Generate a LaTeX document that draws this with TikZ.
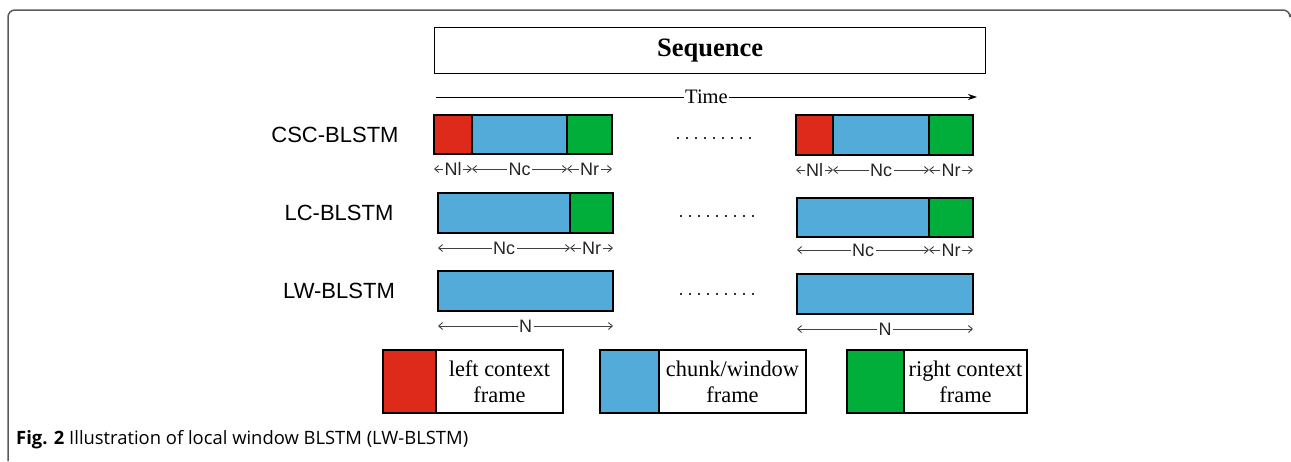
\documentclass[tikz,border=0pt]{standalone}
\usepackage{fontspec}
\setmainfont{Liberation Serif}
\newfontfamily\lblfont{Liberation Sans}
\newfontfamily\capfont{Open Sans}
\usetikzlibrary{positioning,arrows.meta}

\definecolor{ctxred}{RGB}{222,42,27}
\definecolor{chunkblue}{RGB}{82,171,216}
\definecolor{ctxgreen}{RGB}{0,174,57}

\begin{document}
\begin{tikzpicture}[x=1pt, y=-1pt, node distance=0pt,
  seg/.style={draw=black, line width=1.2pt, inner sep=0pt, outer sep=0pt, minimum height=40pt},
  rowlab/.style={font=\lblfont\fontsize{22}{24}\selectfont},
  dim/.style={{Straight Barb[length=4pt,width=7pt]}-{Straight Barb[length=4pt,width=7pt]}, draw=black!75, line width=0.9pt},
  dimlab/.style={fill=white, inner sep=1.5pt, font=\lblfont\fontsize{18}{20}\selectfont, text=black!85},
  legtxt/.style={seg, fill=white, minimum height=63pt, align=center, font=\fontsize{22.4}{26}\selectfont}]

  \useasboundingbox (0,0) rectangle (1291,461);

  % --- frame and caption ---
  \draw[gray!70!black, line width=1.5pt, rounded corners=7pt] (8,461) -- (8,10) -- (1290,10) -- (1290,14);
  \node[anchor=west, inner sep=0pt, font=\capfont\fontsize{18.4}{20}\selectfont] (cap) at (16,440)
    {\textbf{Fig. 2} Illustration of local window BLSTM (LW-BLSTM)};

  % --- sequence and time axis ---
  \node[draw, line width=1.2pt, inner sep=0pt, minimum width=551pt, minimum height=46pt, anchor=north west,
    font=\bfseries\fontsize{26.5}{30}\selectfont] (seq) at (434,27) {Sequence};
  \coordinate (tstart) at (436,97);
  \coordinate (tend) at (977,97);
  \draw[-{Stealth[length=9pt,width=6pt]}, line width=1pt] (tstart) -- node[fill=white, inner sep=1pt, font=\fontsize{20.5}{22}\selectfont] (timelab) {Time} (tend);

  % --- row labels ---
  \node[rowlab] (csclab) at (335,135) {CSC-BLSTM};
  \node[rowlab] (lclab) at (339,213) {LC-BLSTM};
  \node[rowlab] (lwlab) at (339,291) {LW-BLSTM};

  % --- CSC-BLSTM ---
  \node[seg, fill=ctxred, minimum width=38pt, minimum height=39pt, anchor=north west] (cscAl) at (434,115) {};
  \node[seg, fill=chunkblue, minimum width=95pt, minimum height=39pt, right=of cscAl] (cscAc) {};
  \node[seg, fill=ctxgreen, minimum width=45pt, minimum height=39pt, right=of cscAc] (cscAr) {};
  \draw[dim] ([yshift=-15pt]cscAl.south west) -- node[dimlab]{Nl} ([yshift=-15pt]cscAl.south east);
  \draw[dim] ([yshift=-15pt]cscAc.south west) -- node[dimlab]{Nc} ([yshift=-15pt]cscAc.south east);
  \draw[dim] ([yshift=-15pt]cscAr.south west) -- node[dimlab]{Nr} ([yshift=-15pt]cscAr.south east);

  \node[seg, fill=ctxred, minimum width=37pt, anchor=north west] (cscBl) at (796,115) {};
  \node[seg, fill=chunkblue, minimum width=96pt, right=of cscBl] (cscBc) {};
  \node[seg, fill=ctxgreen, minimum width=44pt, right=of cscBc] (cscBr) {};
  \draw[dim] ([yshift=-15pt]cscBl.south west) -- node[dimlab]{Nl} ([yshift=-15pt]cscBl.south east);
  \draw[dim] ([yshift=-15pt]cscBc.south west) -- node[dimlab]{Nc} ([yshift=-15pt]cscBc.south east);
  \draw[dim] ([yshift=-15pt]cscBr.south west) -- node[dimlab]{Nr} ([yshift=-15pt]cscBr.south east);

  % --- LC-BLSTM ---
  \node[seg, fill=chunkblue, minimum width=132pt, anchor=north west] (lcAc) at (438,193) {};
  \node[seg, fill=ctxgreen, minimum width=43pt, right=of lcAc] (lcAr) {};
  \draw[dim] ([yshift=-15pt]lcAc.south west) -- node[dimlab]{Nc} ([yshift=-15pt]lcAc.south east);
  \draw[dim] ([yshift=-15pt]lcAr.south west) -- node[dimlab]{Nr} ([yshift=-15pt]lcAr.south east);

  \node[seg, fill=chunkblue, minimum width=132pt, minimum height=39pt, anchor=north west] (lcBc) at (797,198) {};
  \node[seg, fill=ctxgreen, minimum width=44pt, minimum height=39pt, right=of lcBc] (lcBr) {};
  \draw[dim] ([yshift=-13pt]lcBc.south west) -- node[dimlab]{Nc} ([yshift=-13pt]lcBc.south east);
  \draw[dim] ([yshift=-13pt]lcBr.south west) -- node[dimlab]{Nr} ([yshift=-13pt]lcBr.south east);

  % --- LW-BLSTM ---
  \node[seg, fill=chunkblue, minimum width=175pt, anchor=north west] (lwA) at (438,271) {};
  \draw[dim] ([yshift=-15pt]lwA.south west) -- node[dimlab]{N} ([yshift=-15pt]lwA.south east);

  \node[seg, fill=chunkblue, minimum width=176pt, anchor=north west] (lwB) at (797,274) {};
  \draw[dim] ([yshift=-15pt]lwB.south west) -- node[dimlab]{N} ([yshift=-15pt]lwB.south east);

  % --- dotted gaps ---
  \foreach \i in {0,...,8} {
    \fill[black!80] (677+9*\i,137) rectangle ++(2,2);
    \fill[black!80] (680+9*\i,215) rectangle ++(2,2);
    \fill[black!80] (680+9*\i,293) rectangle ++(2,2);
  }

  % --- legend ---
  \node[seg, fill=ctxred, minimum width=53pt, minimum height=63pt, anchor=north west] (legred) at (383,350) {};
  \node[legtxt, minimum width=127pt, right=of legred] (legredtxt) {left context\\frame};
  \node[seg, fill=chunkblue, minimum width=59pt, minimum height=63pt, anchor=north west] (legblue) at (600,350) {};
  \node[legtxt, minimum width=147pt, right=of legblue] (legbluetxt) {chunk/window\\frame};
  \node[seg, fill=ctxgreen, minimum width=57pt, minimum height=63pt, anchor=north west] (leggreen) at (847,350) {};
  \node[legtxt, minimum width=123pt, right=of leggreen] (leggreentxt) {right context\\frame};

\end{tikzpicture}
\end{document}
